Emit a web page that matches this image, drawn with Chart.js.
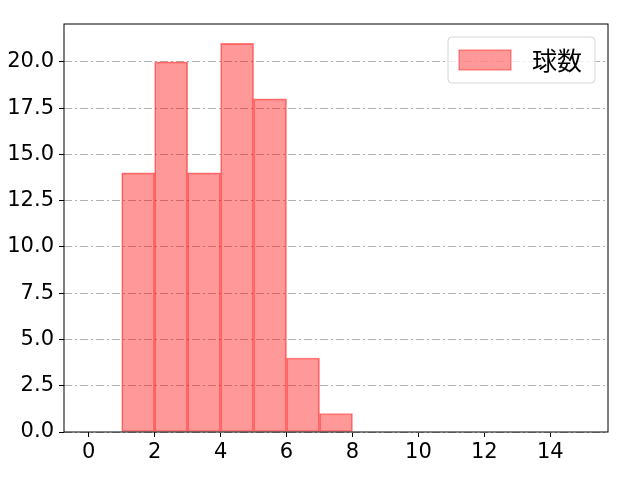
<!DOCTYPE html>
<html>
<head>
<meta charset="utf-8">
<script src="https://cdn.jsdelivr.net/npm/chart.js@4"></script>
<style>
  html, body { margin: 0; padding: 0; background: #fff; }
  canvas { display: block; }
</style>
</head>
<body>
<canvas id="histChart" width="640" height="480"></canvas>
<script>
const binCenters = [0.5, 1.5, 2.5, 3.5, 4.5, 5.5, 6.5, 7.5, 8.5, 9.5, 10.5, 11.5, 12.5, 13.5, 14.5];
const counts = [0, 14, 20, 14, 21, 18, 4, 1, 0, 0, 0, 0, 0, 0, 0];
const seriesLabel = "球数";
const xTicks = [0, 2, 4, 6, 8, 10, 12, 14];
const yTicks = [0, 2.5, 5, 7.5, 10, 12.5, 15, 17.5, 20];

const TICK_FONT = "'DejaVu Sans', sans-serif";
const LEGEND_FONT = "'Noto Sans CJK JP', sans-serif";

const frame = {
  id: "frame",
  afterDraw(chart) {
    const { ctx, chartArea: a } = chart;
    ctx.save();
    ctx.strokeStyle = "#000";
    ctx.lineWidth = 1;
    ctx.strokeRect(a.left, a.top, a.right - a.left, a.bottom - a.top);
    // legend box, upper right
    const w = 147, h = 46;
    const x = a.right - 160, y = a.top + 13;
    ctx.fillStyle = "rgba(255,255,255,0.8)";
    ctx.strokeStyle = "#d6d6d6";
    ctx.beginPath();
    ctx.roundRect(x, y, w, h, 4);
    ctx.fill();
    ctx.stroke();
    ctx.fillStyle = "rgba(255,0,0,0.4)";
    ctx.strokeStyle = "rgba(255,0,0,0.5)";
    ctx.fillRect(x + 11, y + 13, 52, 20);
    ctx.strokeRect(x + 11, y + 13, 52, 20);
    ctx.fillStyle = "#000";
    ctx.font = "25px " + LEGEND_FONT;
    ctx.textBaseline = "middle";
    ctx.fillText(seriesLabel, x + 84, y + 23);
    ctx.restore();
  }
};

new Chart(document.getElementById("histChart"), {
  type: "bar",
  data: {
    datasets: [
      {
        label: seriesLabel,
        data: binCenters.map((c, i) => ({ x: c, y: counts[i] })),
        backgroundColor: "rgba(255,0,0,0.4)",
        borderColor: "rgba(255,0,0,0.5)",
        borderWidth: 1,
        borderSkipped: false,
        barPercentage: 1,
        categoryPercentage: 1,
      },
    ],
  },
  options: {
    responsive: false,
    animation: false,
    devicePixelRatio: 1,
    layout: { padding: { top: 24, right: 32, left: 0, bottom: 0 } },
    plugins: {
      legend: { display: false },
      tooltip: { enabled: false },
    },
    scales: {
      x: {
        type: "linear",
        offset: false,
        min: -0.75,
        max: 15.75,
        afterBuildTicks: (s) => { s.ticks = xTicks.map((v) => ({ value: v })); },
        afterFit: (s) => { s.height = 48; },
        ticks: { color: "#000", font: { family: TICK_FONT, size: 21 }, padding: 3, autoSkip: false, maxRotation: 0 },
        grid: { display: true, offset: false, drawOnChartArea: false, tickLength: 5, color: "#000" },
        border: { display: false },
      },
      y: {
        min: 0,
        max: 22.05,
        afterBuildTicks: (s) => { s.ticks = yTicks.map((v) => ({ value: v })); },
        afterFit: (s) => { s.width = 64; },
        ticks: {
          color: "#000",
          font: { family: TICK_FONT, size: 21 },
          padding: 5,
          autoSkip: false,
          callback: (v) => v.toFixed(1),
        },
        grid: { color: "#b0b0b0", tickLength: 5, tickColor: "#000", tickBorderDash: [] },
        border: { display: false, dash: [8, 3, 2, 3] },
      },
    },
  },
  plugins: [frame],
});
</script>
</body>
</html>
